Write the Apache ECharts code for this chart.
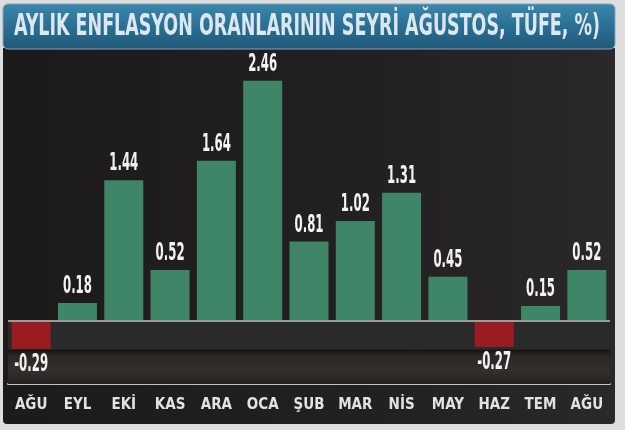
<!DOCTYPE html>
<html>
<head>
<meta charset="utf-8">
<script src="https://cdn.jsdelivr.net/npm/echarts@6/dist/echarts.min.js"></script>
<style>
html,body{margin:0;padding:0;background:#dedede;}
#c{width:625px;height:430px;}
</style>
</head>
<body>
<div id="c"></div>
<script>
const titleText = 'AYLIK ENFLASYON ORANLARININ SEYRİ AĞUSTOS, TÜFE, %)';
const categories = ['AĞU','EYL','EKİ','KAS','ARA','OCA','ŞUB','MAR','NİS','MAY','HAZ','TEM','AĞU'];
const values = [-0.29, 0.18, 1.44, 0.52, 1.64, 2.46, 0.81, 1.02, 1.31, 0.45, -0.27, 0.15, 0.52];
const valueLabels = ['-0.29','0.18','1.44','0.52','1.64','2.46','0.81','1.02','1.31','0.45','-0.27','0.15','0.52'];

const FONT = "'Liberation Sans Narrow','DejaVu Sans Condensed','Arial Narrow',sans-serif";
function measure(txt, font){
  const cv = document.createElement('canvas').getContext('2d');
  cv.font = font;
  return cv.measureText(txt).width;
}
const titleFont = 'bold 31px ' + FONT;
const titleScale = 586 / measure(titleText, titleFont);
const labelFont = 'bold 24px ' + FONT;
const labelScale = 29 / measure('0.45', labelFont);

const chart = echarts.init(document.getElementById('c'), null, {renderer:'canvas'});
const option = {
  backgroundColor: '#dedede',
  animation: false,
  graphic: [
    {type:'rect', z:-10, shape:{x:3,y:48,width:612,height:376,r:[0,0,4,4]},
     style:{fill:new echarts.graphic.LinearGradient(0,0,1,0,[{offset:0,color:'#1c1a1a'},{offset:0.6,color:'#222020'},{offset:1,color:'#2a2828'}])}},
    {type:'rect', z:-9, shape:{x:3,y:4,width:612,height:45,r:5},
     style:{fill:new echarts.graphic.LinearGradient(0,0,0,1,[{offset:0,color:'#3c87ad'},{offset:0.5,color:'#2a6f93'},{offset:1,color:'#1f5877'}]), stroke:'#7fa9bf', lineWidth:1}},
    {type:'text', z:10, x:14, y:27, scaleX:titleScale, scaleY:1,
     style:{text:titleText, font:titleFont, fill:'#dde7ee', align:'left', verticalAlign:'middle'}}
  ],
  grid: {left:8, right:15, top:67, bottom:46, containLabel:false},
  xAxis: {
    type:'category', data:categories,
    axisLine:{show:true, onZero:false, lineStyle:{color:'#c4c4c4', width:2}},
    axisTick:{show:false},
    axisLabel:{color:'#e2e2e2', fontFamily:FONT, fontWeight:'bold', fontSize:15, margin:14, interval:0}
  },
  yAxis: {
    type:'value', min:-0.65, max:2.6, show:false,
    splitLine:{show:false}
  },
  series: [
    {
      type:'bar', barWidth:39, z:3,
      data: values.map(v => ({value:v, itemStyle:{color: v < 0 ? '#9a1c21' : '#3f8668'}})),
      markArea: {
        silent:true,
        data:[
          [{yAxis:0, itemStyle:{color:'#2b2a2a'}},{yAxis:-0.3}],
          [{yAxis:-0.3, itemStyle:{color:new echarts.graphic.LinearGradient(0,0,0,1,[{offset:0,color:'#141212'},{offset:0.15,color:'#2a2624'},{offset:0.6,color:'#35302c'},{offset:1,color:'#242120'}])}},{yAxis:-0.65}]
        ]
      },
      markLine: {
        silent:true, symbol:'none', label:{show:false},
        lineStyle:{color:'#9a9a9a', width:2, type:'solid'},
        data:[{yAxis:0}]
      }
    },
    {
      type:'custom', z:5,
      data: values.map((v,i) => [i, v]),
      renderItem: function(params, api){
        const i = api.value(0), v = api.value(1);
        const p = api.coord([i, v]);
        return {
          type:'text', x:p[0], y: v < 0 ? p[1] + 16 : p[1] - 16,
          scaleX: labelScale, scaleY: 1,
          style:{text: valueLabels[i], font: labelFont, fill:'#f2f2f2', align:'center', verticalAlign:'middle'}
        };
      }
    }
  ]
};
chart.setOption(option);
</script>
</body>
</html>
